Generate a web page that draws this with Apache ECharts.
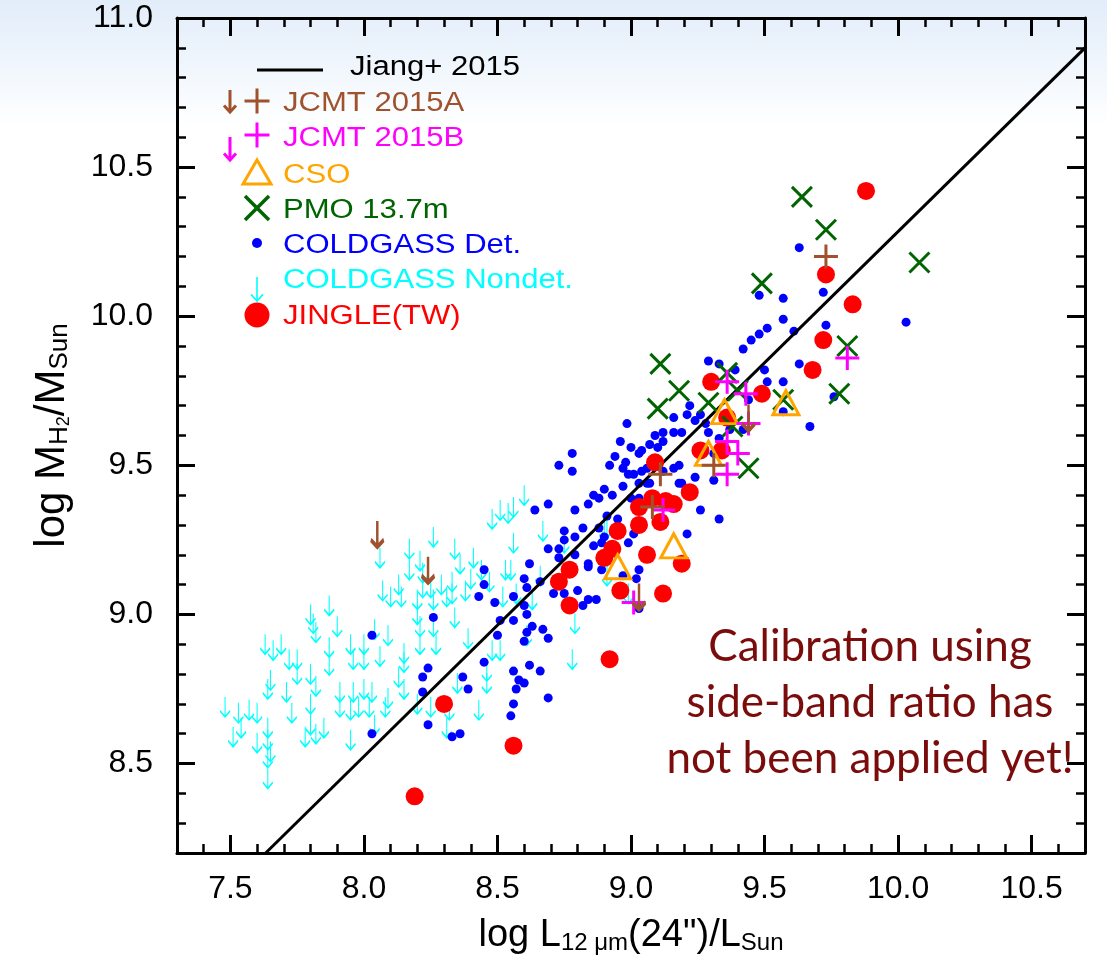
<!DOCTYPE html>
<html><head><meta charset="utf-8">
<script src="https://cdn.jsdelivr.net/npm/echarts@6/dist/echarts.min.js"></script>
<style>html,body{margin:0;padding:0;background:#fff}#c{width:1107px;height:974px}</style>
</head><body><div id="c"></div>
<script>
// ---------------- data ----------------
const xMajorTicks = [7.5, 8.0, 8.5, 9.0, 9.5, 10.0, 10.5];
const yMajorTicks = [8.5, 9.0, 9.5, 10.0, 10.5, 11.0];

// Jiang+ 2015 relation: two end points of the drawn line
const jiangLine = [[7.632, 8.2], [10.7, 10.9]];

const jingle = [[9.88,10.42],[9.73,10.14],[9.83,10.04],[9.72,9.92],[9.68,9.82],[9.49,9.74],[9.30,9.78],[9.36,9.66],[9.26,9.55],[9.34,9.55],[9.09,9.51],[9.22,9.41],[9.08,9.39],[9.03,9.36],[9.13,9.38],[9.16,9.37],[9.11,9.31],[9.03,9.30],[8.95,9.28],[8.93,9.22],[8.90,9.19],[9.06,9.20],[9.19,9.17],[8.77,9.15],[8.73,9.11],[8.96,9.08],[9.12,9.07],[8.77,9.03],[8.92,8.85],[8.30,8.70],[8.56,8.56],[8.19,8.39]];

const pmo = [[9.64,10.40],[9.73,10.29],[10.08,10.18],[9.49,10.11],[9.81,9.90],[9.78,9.74],[9.57,9.72],[9.11,9.84],[9.18,9.75],[9.10,9.69],[9.29,9.71],[9.36,9.81],[9.40,9.75],[9.44,9.49],[9.38,9.63]];

const jcmtB = [[9.36,9.78],[9.43,9.74],[9.44,9.64],[9.36,9.58],[9.40,9.54],[9.36,9.47],[9.81,9.86],[9.12,9.35],[9.01,9.04]];

const jcmtA = [[9.73,10.20],[9.11,9.47],[9.31,9.50],[9.08,9.36]];
const jcmtAUpper = [[8.05,9.27],[8.24,9.15],[9.03,9.06],[9.44,9.66]];

const cso = [[9.58,9.71],[9.35,9.68],[9.29,9.54],[9.16,9.23],[8.95,9.16]];

const coldgassDet = [
 [8.03,8.93],[8.03,8.60],
 [8.62,9.17],[8.45,9.15],[8.60,9.12],[8.61,9.09],[8.45,9.10],[8.43,9.06],[8.49,9.04],[8.56,9.06],[8.60,9.03],[8.61,9.00],[8.51,8.98],[8.56,8.98],[8.26,8.99],[8.61,8.94],[8.50,8.93],[8.60,8.91],[8.45,8.84],[8.24,8.82],[8.22,8.79],[8.37,8.79],[8.39,8.75],[8.22,8.74],[8.62,8.83],[8.56,8.81],[8.58,8.78],[8.60,8.77],[8.57,8.75],[8.56,8.70],[8.24,8.63],[8.55,8.66],[8.36,8.60],[8.33,8.59],
 [8.985,9.64],[8.96,9.58],[9.00,9.56],[9.03,9.54],[8.78,9.54],[8.94,9.53],[8.73,9.50],[8.78,9.48],[8.92,9.50],[8.98,9.51],[8.97,9.49],[8.99,9.47],[9.01,9.47],[9.03,9.44],[8.97,9.43],[8.90,9.42],[8.86,9.40],[8.88,9.39],[8.93,9.40],[8.84,9.37],[8.69,9.37],[8.64,9.35],[8.79,9.35],[9.00,9.39],[9.03,9.39],[8.91,9.33],[8.95,9.32],[8.88,9.29],[8.82,9.29],[8.75,9.28],[8.79,9.26],[8.90,9.26],[8.89,9.24],[8.69,9.22],[8.73,9.22],[8.75,9.25],[8.86,9.23],[8.99,9.24],[8.79,9.20],[8.73,9.19],[8.84,9.17],[8.84,9.16],[8.89,9.15],[8.66,9.11],[8.71,9.07],[8.75,9.07],[8.80,9.08],[8.84,9.05],[8.82,9.03],[8.87,9.05],[8.63,8.96],[8.67,8.95],[8.69,8.92],[8.66,8.81],[8.69,8.72],[9.03,9.15],[9.02,9.12],[9.03,9.02],[9.01,9.27],[8.97,9.13],
 [9.48,10.07],[9.48,9.94],[9.45,9.92],[9.42,9.89],[9.29,9.85],[9.33,9.84],[9.39,9.82],[9.44,9.72],[9.22,9.70],[9.21,9.67],[9.24,9.65],[9.26,9.67],[9.28,9.64],[9.29,9.61],[9.33,9.59],[9.42,9.62],[9.37,9.62],[9.16,9.66],[9.19,9.61],[9.16,9.61],[9.12,9.61],[9.12,9.58],[9.09,9.60],[9.10,9.56],[9.07,9.57],[9.04,9.55],[9.04,9.48],[9.06,9.49],[9.06,9.44],[9.07,9.44],[9.12,9.48],[9.16,9.49],[9.18,9.50],[9.18,9.44],[9.19,9.44],[9.24,9.46],[9.26,9.35],[9.33,9.32],[9.21,9.27],[9.31,9.54],[9.31,9.45],
 [9.63,10.23],[9.72,10.08],[9.57,10.06],[9.57,9.99],[9.51,9.96],[9.61,9.95],[9.73,9.97],[10.03,9.98],[9.50,9.82],[9.51,9.78],[9.57,9.78],[9.63,9.84],[9.57,9.68],[9.67,9.63],[9.76,9.73]
];

const coldgassNondet = [
 [8.51,9.35],[8.48,9.32],[8.54,9.34],[8.26,9.26],[8.17,9.22],[8.21,9.18],[8.06,9.19],[8.34,9.22],[8.36,9.17],[8.41,9.19],[8.53,9.15],[8.17,9.15],[8.22,9.14],[8.07,9.08],[8.10,9.06],[8.14,9.06],[8.13,9.10],[8.20,9.05],[8.22,9.09],[8.25,9.09],[8.26,9.05],[8.29,9.10],[8.33,9.11],[8.33,9.07],[8.31,9.06],[8.38,9.08],[8.40,9.12],[8.44,9.15],[8.47,9.11],[8.52,9.06],
 [8.20,9.00],[8.21,8.96],[8.26,8.96],[8.34,8.99],[8.21,8.90],[8.27,8.90],[8.39,8.92],[8.48,8.88],[8.51,8.88],[8.46,8.81],[8.46,8.77],
 [7.80,9.00],[7.81,8.97],[7.82,8.94],[7.87,9.03],[7.90,8.96],[7.63,8.90],[7.66,8.88],[7.69,8.90],[7.72,8.85],[7.75,8.85],[7.75,8.80],[7.80,8.80],[7.82,8.76],[7.87,8.89],[7.87,8.83],[7.95,8.90],[8.00,8.90],[7.96,8.85],[8.00,8.85],[8.06,8.86],[8.04,8.95],[8.09,8.93],[8.15,8.87],[8.15,8.84],[8.13,8.79],[8.15,8.75],
 [7.65,8.78],[7.64,8.75],[7.71,8.74],[7.91,8.74],[7.96,8.74],[8.00,8.75],[8.03,8.74],[8.09,8.72],[8.08,8.69],[8.20,8.70],[8.25,8.69],[8.32,8.68],[8.35,8.77],[8.43,8.68],[7.91,8.69],[7.95,8.68],[7.98,8.69],[8.02,8.69],[7.73,8.67],[7.80,8.70],
 [7.48,8.69],[7.53,8.67],[7.57,8.68],[7.60,8.67],[7.51,8.59],[7.54,8.62],[7.64,8.62],[7.64,8.58],[7.60,8.57],[7.65,8.54],[7.64,8.52],[7.64,8.45],[7.78,8.59],[7.80,8.63],[7.82,8.60],[7.85,8.62],[7.95,8.58],[8.04,8.63],[8.31,8.62],
 [8.60,9.40],[8.56,9.36],[8.67,9.28],[8.56,9.24],[8.55,9.15],[8.57,9.07],[8.63,9.05],[8.61,8.93],[8.79,8.97],[8.78,8.85],[8.75,9.24],[8.90,9.28],[8.91,9.29],[8.66,9.13],[8.91,9.13],[8.99,9.07]
];

const legendLabels = ['Jiang+ 2015','JCMT 2015A','JCMT 2015B','CSO','PMO 13.7m','COLDGASS Det.','COLDGASS Nondet.','JINGLE(TW)'];
const noteLines = ['Calibration using','side-band ratio has','not been applied yet!'];

// ---------------- styles ----------------
const FONT = '"Liberation Sans", Arial, Helvetica, sans-serif';
const C = {brown:'#a0522d', magenta:'#ff00ff', orange:'#ffa500', green:'#006400', blue:'#0000ff', cyan:'#00ffff', red:'#ff0000', note:'#7a0c0c'};

const SYM = {
  arrow: 'path://M5,0L5,20M0,14L5,20L10,14',
  bigArrow: 'path://M6.5,0L6.5,26M0,19L6.5,26L13,19',
  cross: 'path://M0,0L20,20M20,0L0,20',
  plus: 'path://M12,0L12,24M0,12L24,12',
  tri: 'path://M13,0L26,24L0,24Z'
};

const nameRich = {
  a:{fontSize:38, lineHeight:46, fontFamily:FONT, color:'#000', verticalAlign:'bottom'},
  s:{fontSize:24, lineHeight:24, fontFamily:FONT, color:'#000', verticalAlign:'bottom'},
  t:{fontSize:17, lineHeight:17, fontFamily:FONT, color:'#000', verticalAlign:'bottom'}
};
const nameRichY = {
  a:{fontSize:42, lineHeight:50, fontFamily:FONT, color:'#000', verticalAlign:'bottom'},
  s:{fontSize:26, lineHeight:26, fontFamily:FONT, color:'#000', verticalAlign:'bottom'},
  t:{fontSize:18, lineHeight:18, fontFamily:FONT, color:'#000', verticalAlign:'bottom'}
};

function majorAxis(dim, pos, ticks, withLabels, extra) {
  const isX = dim === 'x';
  return Object.assign({
    type:'value', position:pos,
    min: isX ? 7.3 : 8.2, max: isX ? 10.7 : 11.0,
    axisLine:{show:true, onZero:false, lineStyle:{color:'#000', width:3}},
    axisTick:{show:true, inside:true, length:18, customValues:ticks, lineStyle:{color:'#000', width:3}},
    axisLabel:{show:withLabels, customValues:ticks, margin: isX ? 20 : 24, fontSize:32, fontFamily:FONT, color:'#000',
               formatter:(v)=>Number(v).toFixed(1)},
    splitLine:{show:false}
  }, extra || {});
}
function minorAxis(dim, pos) {
  const isX = dim === 'x';
  return {
    type:'value', position:pos,
    min: isX ? 7.3 : 8.2, max: isX ? 10.7 : 11.0, interval:0.1,
    axisLine:{show:false},
    axisTick:{show:true, inside:true, length:9, lineStyle:{color:'#000', width:2.5}},
    axisLabel:{show:false}, splitLine:{show:false}
  };
}

// ---------------- legend & note graphics ----------------
const LX = 257, TX = 283;
function txt(x, y, s, color, sx) {
  return {type:'text', x:x, y:y, scaleX: sx || 1.15, z:100,
          style:{text:s, fill:color, font:'27px ' + FONT, verticalAlign:'middle', align:'left'}};
}
function ln(x1,y1,x2,y2,color,w){ return {type:'line', z:100, shape:{x1:x1,y1:y1,x2:x2,y2:y2}, style:{stroke:color, lineWidth:w}}; }
function arrowG(x, y1, y2, hw, color, w) {
  return [ln(x,y1,x,y2,color,w),
          {type:'polyline', z:100, shape:{points:[[x-hw,y2-hw*1.1],[x,y2],[x+hw,y2-hw*1.1]]}, style:{stroke:color, lineWidth:w, fill:null}}];
}
const legendRows = [68, 104, 139, 176, 211, 246, 281, 317];
const graphics = [
  {type:'rect', z:-100, silent:true, shape:{x:0,y:0,width:1107,height:974},
   style:{fill:new echarts.graphic.LinearGradient(0,0,0,1,[{offset:0,color:'#e2edfa'},{offset:0.06,color:'#eef5fc'},{offset:0.13,color:'#ffffff'},{offset:1,color:'#ffffff'}])}},
  ln(257, 70, 323, 70, '#000', 3),
  txt(350, legendRows[0], legendLabels[0], '#000'),
  ln(LX-12.5, 101, LX+12.5, 101, C.brown, 3), ln(LX, 88.5, LX, 113.5, C.brown, 3),
  ...arrowG(230, 90, 112, 6, C.brown, 3),
  txt(TX, legendRows[1], legendLabels[1], C.brown),
  ln(LX-12.5, 135, LX+12.5, 135, C.magenta, 3), ln(LX, 122.5, LX, 147.5, C.magenta, 3),
  ...arrowG(230, 137, 160, 6, C.magenta, 3),
  txt(TX, legendRows[2], legendLabels[2], C.magenta),
  {type:'polygon', z:100, shape:{points:[[LX,160],[LX+14,184],[LX-14,184]]}, style:{stroke:C.orange, lineWidth:3, fill:null}},
  txt(TX, legendRows[3], legendLabels[3], C.orange),
  ln(LX-12, 196, LX+12, 220, C.green, 3.5), ln(LX+12, 196, LX-12, 220, C.green, 3.5),
  txt(TX, legendRows[4], legendLabels[4], C.green),
  {type:'circle', z:100, shape:{cx:LX, cy:243, r:5}, style:{fill:C.blue}},
  txt(TX, legendRows[5], legendLabels[5], C.blue),
  ...arrowG(LX, 277, 301, 6, C.cyan, 1.6),
  txt(TX, legendRows[6], legendLabels[6], C.cyan),
  {type:'circle', z:100, shape:{cx:LX, cy:315, r:12.5}, style:{fill:C.red}},
  txt(TX, legendRows[7], legendLabels[7], C.red),
  {type:'text', z:100, x:870, y:703,
   style:{text:noteLines.join('\n'), fill:C.note, font:'44px Lato, "Open Sans", sans-serif', align:'center', verticalAlign:'middle', lineHeight:56}}
];

// ---------------- chart ----------------
const chart = echarts.init(document.getElementById('c'), null, {renderer:'canvas'});
chart.setOption({
  animation:false,
  backgroundColor:'transparent',
  grid:{left:177, right:22, top:18, bottom:121},
  xAxis:[
    majorAxis('x','bottom',xMajorTicks,true,{
      name:'{a|log L}{s|12 μm}{a|(24")/L}{s|Sun}', nameLocation:'middle', nameGap:56,
      nameTextStyle:{rich:nameRich}
    }),
    minorAxis('x','bottom'),
    majorAxis('x','top',xMajorTicks,false),
    minorAxis('x','top')
  ],
  yAxis:[
    majorAxis('y','left',yMajorTicks,true,{
      name:'{a|log M}{s|H}{t|2}{a|/M}{s|Sun}', nameLocation:'middle', nameGap:104, nameRotate:90,
      nameTextStyle:{rich:nameRichY}
    }),
    minorAxis('y','left'),
    majorAxis('y','right',yMajorTicks,false),
    minorAxis('y','right')
  ],
  graphic:{elements:graphics},
  series:[
    {name:'Jiang+ 2015', type:'line', data:jiangLine, symbol:'none', lineStyle:{color:'#000', width:3, opacity:1}, z:3, silent:true},
    {name:'COLDGASS Nondet.', type:'scatter', data:coldgassNondet, symbol:SYM.arrow, symbolSize:[10,20],
     itemStyle:{color:'rgba(0,0,0,0)', borderColor:C.cyan, borderWidth:1.5, opacity:1}, z:2},
    {name:'COLDGASS Det.', type:'scatter', data:coldgassDet, symbol:'circle', symbolSize:9,
     itemStyle:{color:C.blue, opacity:1}, z:2},
    {name:'JINGLE(TW)', type:'scatter', data:jingle, symbol:'circle', symbolSize:18, itemStyle:{color:C.red, opacity:1}, z:4},
    {name:'PMO 13.7m', type:'scatter', data:pmo, symbol:SYM.cross, symbolSize:20,
     itemStyle:{color:'rgba(0,0,0,0)', borderColor:C.green, borderWidth:3, opacity:1}, z:5},
    {name:'CSO', type:'scatter', data:cso, symbol:SYM.tri, symbolSize:[26,24],
     itemStyle:{color:'rgba(0,0,0,0)', borderColor:C.orange, borderWidth:3, opacity:1}, z:5},
    {name:'JCMT 2015B', type:'scatter', data:jcmtB, symbol:SYM.plus, symbolSize:24,
     itemStyle:{color:'rgba(0,0,0,0)', borderColor:C.magenta, borderWidth:3, opacity:1}, z:6},
    {name:'JCMT 2015A', type:'scatter', data:jcmtA, symbol:SYM.plus, symbolSize:24,
     itemStyle:{color:'rgba(0,0,0,0)', borderColor:C.brown, borderWidth:3, opacity:1}, z:6},
    {name:'JCMT 2015A upper', type:'scatter', data:jcmtAUpper, symbol:SYM.bigArrow, symbolSize:[13,26],
     itemStyle:{color:'rgba(0,0,0,0)', borderColor:C.brown, borderWidth:3.5, opacity:1}, z:6}
  ]
});
</script>
</body></html>
